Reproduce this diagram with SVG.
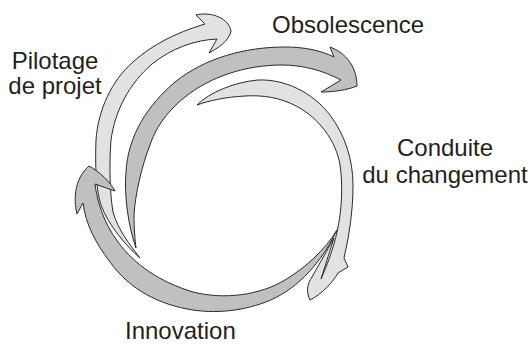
<svg xmlns="http://www.w3.org/2000/svg" width="529" height="344" viewBox="0 0 529 344">
<style>
.light{fill:#e1e2e4;stroke:#2a2a2a;stroke-width:1;stroke-linejoin:round}
.dark{fill:#bfc0c2;stroke:#2a2a2a;stroke-width:1;stroke-linejoin:round}
text{font-family:"Liberation Sans",Arial,sans-serif;font-size:24px;fill:#231f20}
</style>
<rect width="529" height="344" fill="#ffffff"/>
<g id="connectors">
<path id="arrow-pilotage" class="light" d="M140,258 C128,248 108,225 101,205 C96,190 95,165 96,140 C98,110 112,80 133,62 C152,45 175,33 205,24 L196,15 C212,11 229,19 231,31 C229,41 218,48 209,53 L217,39 C195,40 172,48 152,64 C130,83 115,110 111,140 C109,165 110,195 113,212 C118,230 130,245 140,258 Z"/>
<path id="arrow-obsolescence" class="dark" d="M136,248 C128,225 124,195 126,172 C128,135 148,105 175,82 C205,58 245,47 285,47 C303,47 320,50 334,57 L330,47 C346,53 357,67 357,86 C347,90 334,92 321,92 L341,80 C322,70 302,65 282,65 C245,65 210,77 185,97 C165,113 155,130 150,145 C142,165 135,195 134,215 C134,228 135,240 136,248 Z"/>
<path id="arrow-conduite" class="light" d="M197,105 C210,92 235,82 258,80 C285,79 312,92 330,115 C345,135 353,160 353,185 C353,215 348,240 344,258 L348,267 L338,273 C333,282 322,294 310,300 C306,292 307,284 312,277 L334,238 L321,279 C327,265 333,250 337,232 C342,210 343,185 340,165 C336,140 318,118 298,107 C280,97 262,95 245,96 C225,97 208,101 197,105 Z"/>
<path id="arrow-innovation" class="dark" d="M337,230 C325,255 305,283 275,298 C250,310 220,314 193,310 C160,305 130,290 110,262 C95,242 86,225 83,203 L77,214 C73,198 75,178 89,166 C100,172 110,182 115,191 L95,184 C97,200 103,222 118,242 C135,265 160,282 193,292 C225,300 260,295 285,280 C305,268 325,250 337,230 Z"/>
</g>
<g id="label-pilotage"><text x="55" y="69" text-anchor="middle">Pilotage</text><text x="55" y="94" text-anchor="middle">de projet</text></g>
<g id="label-obsolescence"><text x="272" y="33">Obsolescence</text></g>
<g id="label-conduite"><text x="445" y="156" text-anchor="middle">Conduite</text><text x="445" y="183" text-anchor="middle">du changement</text></g>
<g id="label-innovation"><text x="125" y="339">Innovation</text></g>
</svg>
